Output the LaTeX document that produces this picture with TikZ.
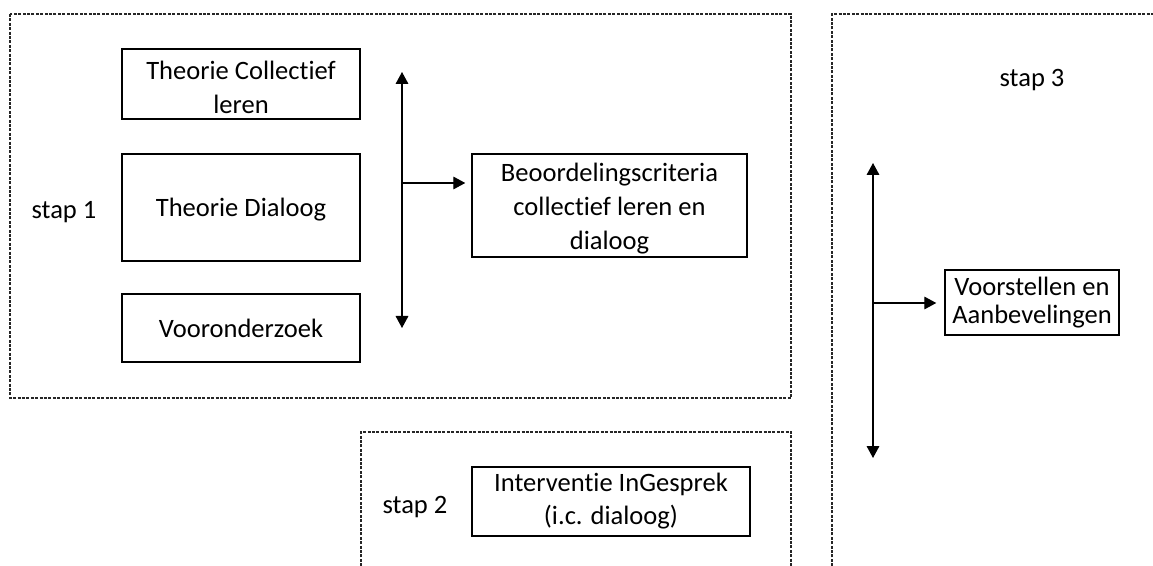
\documentclass[tikz,border=0pt]{standalone}
\usepackage{fontspec}
\setmainfont{Carlito}[Ligatures=NoCommon]
\usetikzlibrary{arrows.meta}
\begin{document}
\begin{tikzpicture}[x=0.75pt,y=-0.75pt,
  frame/.style={draw=black!85, line width=1.8pt, dash pattern=on 2.2pt off 1.1pt},
  box/.style={draw, line width=1.1pt, inner sep=0pt},
  txt/.style={align=center, inner sep=0pt, font=\fontsize{19.9}{25.5}\selectfont},
  lbl/.style={font=\fontsize{19.9}{25.5}\selectfont, inner sep=0pt, anchor=base},
  arr/.style={line width=0.9pt, -{Triangle[length=9pt,width=9.5pt]}},
  darr/.style={line width=0.9pt, {Triangle[length=9pt,width=9.5pt]}-{Triangle[length=9pt,width=9.5pt]}}
]
\useasboundingbox (0,0) rectangle (1153,566);
% frames
\draw[frame] (10,14) rectangle (791,398);
\draw[frame] (361,575) -- (361,432) -- (791,432) -- (791,575);
\draw[frame] (832,575) -- (832,14) -- (1160,14);
% labels
\node[lbl] (s1) at (64,219) {stap 1};
\node[lbl] (s2) at (415,513) {stap 2};
\node[lbl] (s3) at (1032,87) {stap 3};
% boxes
\node[box, minimum width=178.5pt, minimum height=52.5pt] (A) at (241,84) {};
\node[txt] (At) at ([yshift=-2.25pt]A.center) {Theorie Collectief\\leren};
\node[box, minimum width=178.5pt, minimum height=80.25pt] (B) at (241,207.5) {};
\node[txt] (Bt) at ([yshift=-1.5pt]B.center) {Theorie Dialoog};
\node[box, minimum width=178.5pt, minimum height=51pt] (C) at (241,328) {};
\node[txt] (Ct) at (C.center) {Vooronderzoek};
\node[box, minimum width=206.25pt, minimum height=77.25pt] (D) at (609.5,205.5) {};
\node[txt] (Dt) at ([yshift=-2.25pt]D.center) {Beoordelingscriteria\\collectief leren en\\dialoog};
\node[box, minimum width=208.5pt, minimum height=51.75pt] (E) at (611,501.5) {};
\node[txt, font=\fontsize{19.9}{24.75}\selectfont] (Et) at (E.center) {Interventie InGesprek\\(i.c. dialoog)};
\node[box, minimum width=130.5pt, minimum height=48.75pt] (F) at (1032,302.5) {};
\node[txt, font=\fontsize{19.9}{21}\selectfont] (Ft) at (F.center) {Voorstellen en\\Aanbevelingen};
% stap 1 arrows
\coordinate (v1t) at (402,72);
\coordinate (v1b) at (402,328);
\coordinate (h1s) at (402,183);
\draw[darr] (v1t) -- (v1b);
\draw[arr, shorten >=4.5pt] (h1s) -- (h1s -| D.west);
% stap 3 arrows
\coordinate (v3t) at (873,163);
\coordinate (v3b) at (873,458);
\coordinate (h3s) at (873,303);
\draw[darr] (v3t) -- (v3b);
\draw[arr, shorten >=6pt] (h3s) -- (h3s -| F.west);
\end{tikzpicture}
\end{document}
